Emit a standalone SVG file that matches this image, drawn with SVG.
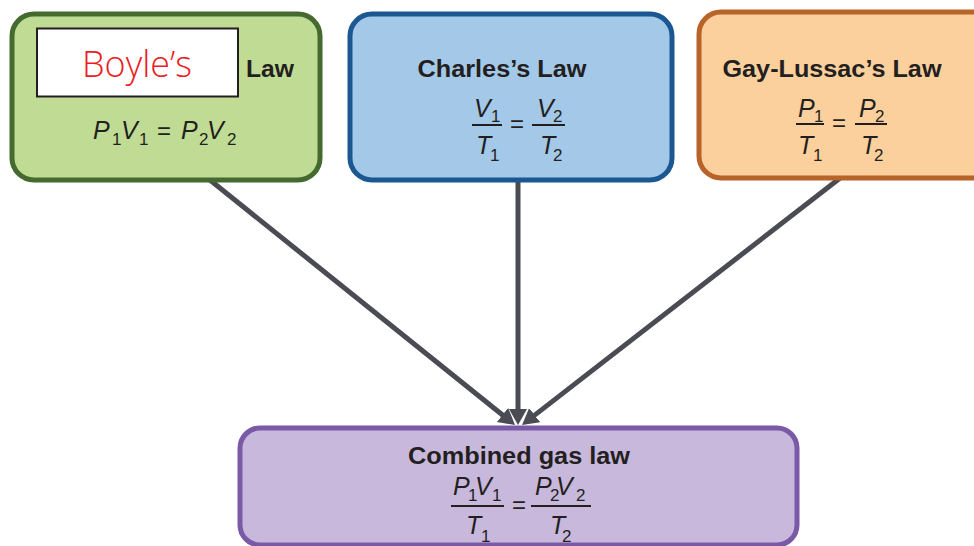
<svg xmlns="http://www.w3.org/2000/svg" width="974" height="546" viewBox="0 0 974 546">
  <style>
    .box { stroke-width: 5; }
    .title { font-family: "Liberation Sans", Arial, sans-serif; font-weight: bold; font-size: 23px; fill: #231f20; }
    .eq { font-family: "Liberation Sans", Arial, sans-serif; font-style: italic; font-size: 25px; fill: #231f20; }
    .sub { font-style: normal; font-size: 17px; }
    .op { font-family: "Liberation Sans", Arial, sans-serif; font-size: 24px; fill: #231f20; }
    .bar { stroke: #231f20; stroke-width: 2; }
    .conn { stroke: #4a4b53; stroke-width: 5; fill: none; marker-end: url(#head); }
  </style>
  <defs>
    <marker id="head" markerUnits="userSpaceOnUse" markerWidth="18" markerHeight="20" refX="2" refY="10" orient="auto">
      <path d="M0,1 L16,10 L0,19 z" fill="#4a4b53"/>
    </marker>
  </defs>

  <rect width="974" height="546" fill="#ffffff"/>

  <!-- connectors into the combined law -->
  <g id="connectors">
    <line class="conn" x1="205" y1="176" x2="504.1" y2="416.2"/>
    <line class="conn" x1="518" y1="178" x2="518" y2="411"/>
    <line class="conn" x1="844" y1="175" x2="533.1" y2="416.4"/>
  </g>

  <!-- Boyle's law -->
  <g id="boyle">
    <rect class="box" x="12" y="14" width="308" height="166" rx="22" fill="#c0dc94" stroke="#456a2f"/>
    <rect x="37" y="28.5" width="201" height="68" fill="#ffffff" stroke="#231f20" stroke-width="2"/>
    <text x="137" y="77" text-anchor="middle" font-family="Open Sans, DejaVu Sans, sans-serif" font-weight="300" font-size="37" fill="#ec1c24" textLength="110" lengthAdjust="spacingAndGlyphs">Boyle’s</text>
    <text class="title" x="246" y="77" textLength="48" lengthAdjust="spacingAndGlyphs">Law</text>
    <text class="eq" y="139"><tspan x="93">P</tspan><tspan class="sub" x="112" dy="6">1</tspan><tspan x="121" dy="-6">V</tspan><tspan class="sub" x="139" dy="6">1</tspan><tspan x="181" dy="-6">P</tspan><tspan class="sub" x="199" dy="6">2</tspan><tspan x="207" dy="-6">V</tspan><tspan class="sub" x="227" dy="6">2</tspan></text>
    <text class="op" x="164" y="139" text-anchor="middle">=</text>
  </g>

  <!-- Charles's law -->
  <g id="charles">
    <rect class="box" x="350" y="14" width="322" height="166" rx="22" fill="#a4c8e8" stroke="#1b5892"/>
    <text class="title" x="502" y="77" text-anchor="middle" textLength="169" lengthAdjust="spacingAndGlyphs">Charles’s Law</text>
    <text class="eq" y="117"><tspan x="474">V</tspan><tspan class="sub" x="491" dy="5">1</tspan><tspan x="537" dy="-5">V</tspan><tspan class="sub" x="553" dy="5">2</tspan></text>
    <line class="bar" x1="472" y1="125" x2="502" y2="125"/>
    <line class="bar" x1="532" y1="125" x2="565" y2="125"/>
    <text class="op" x="517" y="132" text-anchor="middle">=</text>
    <text class="eq" y="154"><tspan x="476">T</tspan><tspan class="sub" x="490" dy="7">1</tspan><tspan x="540" dy="-7">T</tspan><tspan class="sub" x="553" dy="7">2</tspan></text>
  </g>

  <!-- Gay-Lussac's law -->
  <g id="gay-lussac">
    <rect class="box" x="699" y="12" width="300" height="166" rx="22" fill="#fbd09c" stroke="#b8632a"/>
    <text class="title" x="832" y="77" text-anchor="middle" textLength="219" lengthAdjust="spacingAndGlyphs">Gay-Lussac’s Law</text>
    <text class="eq" y="117"><tspan x="798">P</tspan><tspan class="sub" x="814" dy="5">1</tspan><tspan x="859" dy="-5">P</tspan><tspan class="sub" x="875" dy="5">2</tspan></text>
    <line class="bar" x1="796" y1="124" x2="824" y2="124"/>
    <line class="bar" x1="855" y1="124" x2="887" y2="124"/>
    <text class="op" x="839" y="131" text-anchor="middle">=</text>
    <text class="eq" y="154"><tspan x="798">T</tspan><tspan class="sub" x="813" dy="7">1</tspan><tspan x="861" dy="-7">T</tspan><tspan class="sub" x="874" dy="7">2</tspan></text>
  </g>

  <!-- Combined gas law -->
  <g id="combined">
    <rect class="box" x="240" y="428" width="557" height="117" rx="20" fill="#c8b8dc" stroke="#7a5aa6"/>
    <text class="title" x="519" y="464" text-anchor="middle" textLength="222" lengthAdjust="spacingAndGlyphs">Combined gas law</text>
    <text class="eq" y="495"><tspan x="453">P</tspan><tspan class="sub" x="468" dy="6">1</tspan><tspan x="475" dy="-6">V</tspan><tspan class="sub" x="492" dy="6">1</tspan><tspan x="535" dy="-6">P</tspan><tspan class="sub" x="550" dy="6">2</tspan><tspan x="556" dy="-6">V</tspan><tspan class="sub" x="576" dy="6">2</tspan></text>
    <line class="bar" x1="451" y1="506" x2="504" y2="506"/>
    <line class="bar" x1="531" y1="506" x2="591" y2="506"/>
    <text class="op" x="519" y="513" text-anchor="middle">=</text>
    <text class="eq" y="534"><tspan x="466">T</tspan><tspan class="sub" x="481" dy="8">1</tspan><tspan x="550" dy="-8">T</tspan><tspan class="sub" x="562" dy="8">2</tspan></text>
  </g>
</svg>
